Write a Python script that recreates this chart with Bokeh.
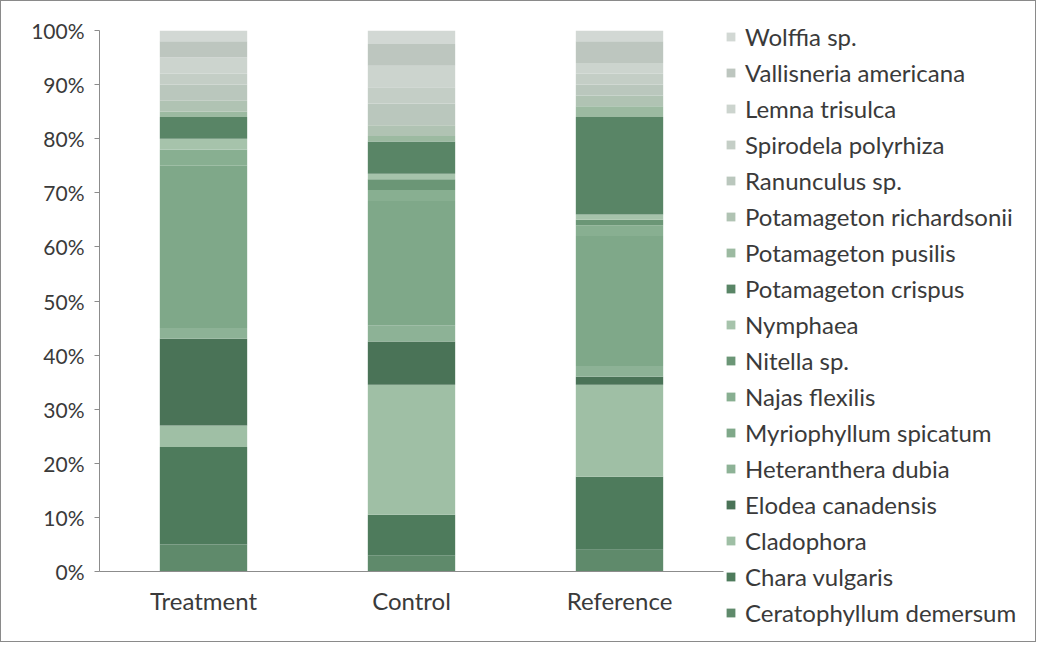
from bokeh.plotting import figure
from bokeh.layouts import row
from bokeh.models import ColumnDataSource, Legend, LegendItem, FixedTicker, PrintfTickFormatter
from bokeh.embed import file_html
from bokeh.resources import INLINE

groups = ["Treatment", "Control", "Reference"]

species = [
    "Ceratophyllum demersum", "Chara vulgaris", "Cladophora", "Elodea canadensis",
    "Heteranthera dubia", "Myriophyllum spicatum", "Najas flexilis", "Nitella sp.",
    "Nymphaea", "Potamageton crispus", "Potamageton pusilis", "Potamageton richardsonii",
    "Ranunculus sp.", "Spirodela polyrhiza", "Lemna trisulca", "Vallisneria americana",
    "Wolffia sp.",
]

treatment = [5, 18, 4, 16, 2, 30, 3, 0, 2, 4, 1, 2, 3, 2, 3, 3, 2]
control = [3, 7.5, 24, 8, 3, 23, 2, 2, 1, 6, 1, 2, 4, 3, 4, 4, 2.5]
reference = [4, 13.5, 17, 1.5, 2, 24, 2, 1, 1, 18, 2, 2, 2, 2, 2, 4, 2]

colors = [
    "#5f8a6b", "#4e7b5c", "#9fbfa5", "#4a7357", "#8db296", "#7fa889", "#88af91",
    "#6b9676", "#a6c3ab", "#598566", "#9cbaa1", "#b0c3b3", "#bac7bd", "#c4cec6",
    "#ccd4ce", "#bdc6bf", "#d2d8d4",
]

keys = [f"s{i}" for i in range(len(species))]
data = {"group": groups}
for i, k in enumerate(keys):
    data[k] = [treatment[i], control[i], reference[i]]
source = ColumnDataSource(data)

font = "Lato"
text_color = "#3a3a3a"

p = figure(x_range=groups, y_range=(0, 100), width=724, height=640,
           output_backend="svg", toolbar_location=None,
           min_border_left=98, min_border_right=2, min_border_top=29, min_border_bottom=70)
p.frame_align = False

renderers = p.vbar_stack(keys, x="group", width=0.42, source=source,
                         color=colors, line_color=None)

p.xgrid.visible = False
p.ygrid.visible = False
p.outline_line_color = None

p.yaxis.ticker = FixedTicker(ticks=list(range(0, 101, 10)))
p.yaxis.formatter = PrintfTickFormatter(format="%d%%")
p.yaxis.major_tick_out = 5
p.yaxis.major_tick_in = 0
p.yaxis.minor_tick_line_color = None
p.yaxis.major_label_standoff = 10
p.yaxis.axis_line_color = "#8c8c8c"
p.yaxis.major_tick_line_color = "#8c8c8c"
p.xaxis.axis_line_color = "#8c8c8c"
p.xaxis.major_tick_line_color = None
p.xaxis.minor_tick_line_color = None
p.xaxis.major_label_standoff = 8
p.yaxis.major_label_text_font_size = "21px"
p.xaxis.major_label_text_font_size = "24px"
for ax in (p.xaxis, p.yaxis):
    ax.major_label_text_font = font
    ax.major_label_text_color = text_color

# legend panel (keys drawn with the same series colours; marks lie outside its ranges)
lg = figure(width=310, height=640, x_range=(0, 1), y_range=(0, 1),
            output_backend="svg", toolbar_location=None,
            x_axis_location=None, y_axis_location=None,
            min_border_left=0, min_border_right=0, min_border_top=20, min_border_bottom=0)
lg.frame_align = False
lg.xgrid.visible = False
lg.ygrid.visible = False
lg.outline_line_color = None
keys_r = [lg.vbar(x=[5], top=[5], bottom=[4], width=0.5, color=colors[i], line_color=None)
          for i in range(len(species))]

items = [LegendItem(label=species[i], renderers=[keys_r[i]]) for i in range(len(species))]
items.reverse()
legend = Legend(items=items, location="top_left")
legend.label_text_font = font
legend.label_text_font_size = "24px"
legend.label_text_color = text_color
legend.label_height = 30
legend.spacing = 6
legend.glyph_height = 11
legend.glyph_width = 11
legend.padding = 2
legend.margin = 0
legend.label_standoff = 9
legend.border_line_color = None
legend.background_fill_alpha = 0
lg.add_layout(legend, "center")

layout = row(p, lg, styles={"border": "1px solid #8a8a8a"})

open("out.html", "w").write(file_html(layout, INLINE))
